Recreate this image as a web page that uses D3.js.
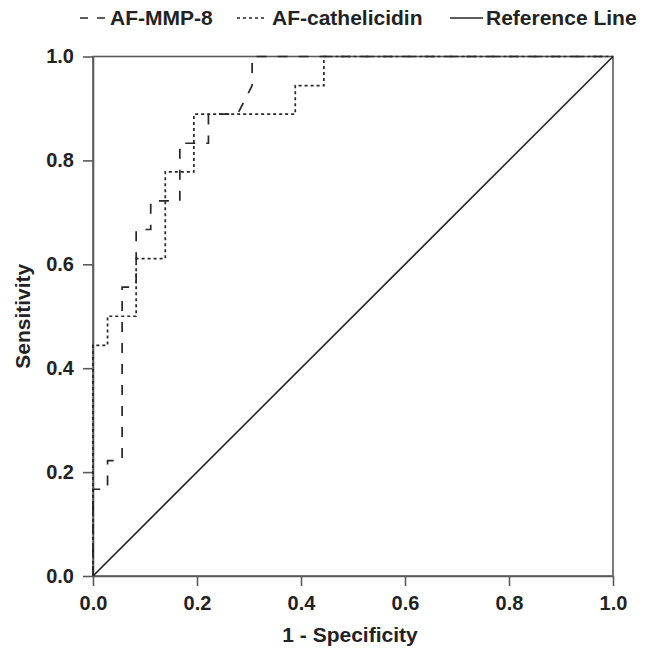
<!DOCTYPE html>
<html>
<head>
<meta charset="utf-8">
<script src="https://cdn.jsdelivr.net/npm/d3@7"></script>
<style>
  html, body { margin: 0; padding: 0; background: #fff; }
  svg text { font-family: "Liberation Sans", Arial, sans-serif; font-weight: bold; fill: #222; }
</style>
</head>
<body>
<svg id="chart" width="649" height="649"></svg>
<script>
// ROC curve coordinates (1 - specificity, sensitivity)
const mmp8Fpr = [0, 0, 0.028, 0.028, 0.056, 0.056, 0.083, 0.083, 0.111, 0.111, 0.167, 0.167, 0.222, 0.222, 0.278, 0.306, 0.306, 1];
const mmp8Tpr = [0, 0.167, 0.167, 0.222, 0.222, 0.556, 0.556, 0.667, 0.667, 0.722, 0.722, 0.833, 0.833, 0.889, 0.889, 0.944, 1, 1];
const cathFpr = [0, 0, 0.028, 0.028, 0.083, 0.083, 0.139, 0.139, 0.194, 0.194, 0.389, 0.389, 0.444, 0.444, 1];
const cathTpr = [0, 0.444, 0.444, 0.5, 0.5, 0.611, 0.611, 0.778, 0.778, 0.889, 0.889, 0.944, 0.944, 1, 1];
const refFpr = [0, 1];
const refTpr = [0, 1];
const tickValues = [0, 0.2, 0.4, 0.6, 0.8, 1.0];
const seriesNames = ["AF-MMP-8", "AF-cathelicidin", "Reference Line"];

const svg = d3.select("#chart");
const plotLeft = 93, plotRight = 613, plotTop = 56.5, plotBottom = 576;

const x = d3.scaleLinear().domain([0, 1]).range([plotLeft, plotRight]);
const y = d3.scaleLinear().domain([0, 1]).range([plotBottom, plotTop]);

const ink = "#262626";
const frameInk = "#5a5a5a";

// frame
svg.append("rect")
  .attr("x", plotLeft).attr("y", plotTop)
  .attr("width", plotRight - plotLeft).attr("height", plotBottom - plotTop)
  .attr("fill", "none").attr("stroke", frameInk).attr("stroke-width", 1.6);

// axes
const fmt = d3.format(".1f");
const xAxis = svg.append("g").attr("transform", `translate(0,${plotBottom})`)
  .call(d3.axisBottom(x).tickValues(tickValues).tickFormat(fmt).tickSize(10).tickSizeOuter(0));
const yAxis = svg.append("g").attr("transform", `translate(${plotLeft},0)`)
  .call(d3.axisLeft(y).tickValues(tickValues).tickFormat(fmt).tickSize(10).tickSizeOuter(0));
[xAxis, yAxis].forEach(g => {
  g.select(".domain").attr("stroke", frameInk).attr("stroke-width", 1.6);
  g.selectAll(".tick line").attr("stroke", frameInk).attr("stroke-width", 1.6);
  g.selectAll(".tick text").style("font-size", "20px").attr("fill", "#222");
});
xAxis.selectAll(".tick text").attr("dy", "0.71em").attr("y", 20);
yAxis.selectAll(".tick text").attr("x", -19);

// axis titles
svg.append("text").attr("x", 350).attr("y", 642)
  .attr("text-anchor", "middle").style("font-size", "21px").text("1 - Specificity");
svg.append("text")
  .attr("transform", `translate(30,${(plotTop + plotBottom) / 2}) rotate(-90)`)
  .attr("text-anchor", "middle").style("font-size", "21px").text("Sensitivity");

const line = d3.line().x(d => x(d[0])).y(d => y(d[1]));
const zip = (a, b) => a.map((v, i) => [v, b[i]]);

const series = [
  { name: seriesNames[0], pts: zip(mmp8Fpr, mmp8Tpr), dash: "10,11" },
  { name: seriesNames[1], pts: zip(cathFpr, cathTpr), dash: "3,3" },
  { name: seriesNames[2], pts: zip(refFpr, refTpr), dash: null }
];

series.slice().reverse().forEach(s => {
  svg.append("path")
    .attr("d", line(s.pts))
    .attr("fill", "none")
    .attr("stroke", ink)
    .attr("stroke-width", 1.7)
    .attr("stroke-dasharray", s.dash);
});

// legend
const legendItems = [
  { sx: 80, len: 27, tx: 110, dash: "8,9" },
  { sx: 237, len: 30, tx: 272, dash: "3,3" },
  { sx: 450, len: 33, tx: 486, dash: null }
];
legendItems.forEach((it, i) => {
  svg.append("line")
    .attr("x1", it.sx).attr("x2", it.sx + it.len)
    .attr("y1", 18).attr("y2", 18)
    .attr("stroke", ink).attr("stroke-width", 1.7)
    .attr("stroke-dasharray", it.dash);
  svg.append("text").attr("x", it.tx).attr("y", 25)
    .style("font-size", "21px").text(series[i].name);
});
</script>
</body>
</html>
